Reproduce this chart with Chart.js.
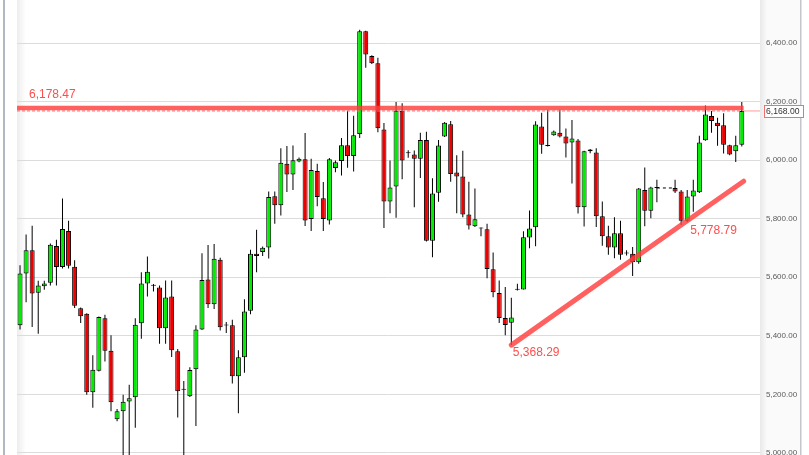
<!DOCTYPE html>
<html><head><meta charset="utf-8">
<script src="https://cdn.jsdelivr.net/npm/chart.js@4.4.0/dist/chart.umd.min.js"></script>
<style>
html,body{margin:0;padding:0;background:#fff;}
#wrap{position:relative;width:809px;height:455px;overflow:hidden;}
canvas{display:block;}
</style></head><body>
<div id="wrap"><canvas id="c" width="809" height="455"></canvas></div>
<script>
// Trading sessions (two holiday sessions without data at 107-108)
const sessions = Array.from({length:120}, (_, i) => 'S' + (i + 1));

const open = [
 5436,5613,5692,5547,5569,5581,5707,5635,5758,5636,
 5494,5475,5207,5281,5460,5349,5115,5142,5176,5190,
 5443,5579,5572,5565,5426,5534,5347,5217,5194,5286,
 5422,5592,5508,5660,5437,5436,5262,5327,5486,5680,
 5686,5702,5877,5846,5988,5951,5995,6003,5799,5963,
 5870,5794,5973,5997,6051,6014,6089,6440,6356,6331,
 6105,5859,5910,6169,6026,6019,6005,6069,5725,5889,
 6081,6123,5958,5944,5814,5774,5767,5764,5627,5546,
 5461,5445,5557,5558,5736,5771,6115,6049,6085,6094,
 6081,6060,6067,5839,6036,6026,5808,5740,5702,5750,
 5682,5680,5651,5898,5827,5906,null,null,5905,5893,
 5793,5876,5890,6068,6151,6128,6119,6051,6030,6053];
const high = [
 5641,5746,5776,5588,5588,5715,5728,5869,5793,5658,
 5497,5477,5334,5466,5472,5402,5150,5199,5233,5460,
 5617,5671,5577,5572,5589,5589,5355,5246,5293,5436,
 5682,5710,5714,5667,5447,5455,5351,5525,5694,5762,
 5705,5893,5893,6041,6048,6050,6009,6093,6005,5988,
 5925,6007,5999,6076,6169,6152,6445,6442,6358,6350,
 6127,5999,6199,6194,6034,6033,6094,6097,5938,6069,
 6130,6134,6017,6032,5926,5903,5770,5783,5685,5589,
 5567,5530,5578,5757,5828,6133,6162,6172,6101,6172,
 6108,6137,6072,6032,6038,6041,5859,5776,5805,5793,
 5692,5703,5905,5975,5909,5933,null,null,5933,5898,
 5898,5933,6083,6187,6168,6145,6160,6053,6083,6199];
const low = [
 5422,5515,5430,5407,5557,5572,5572,5630,5630,5495,
 5444,5199,5154,5278,5312,5142,5108,4980,4980,5086,
 5390,5534,5551,5373,5373,5328,5121,4980,5191,5092,
 5420,5495,5492,5418,5410,5237,5136,5274,5474,5617,
 5673,5664,5783,5811,5891,5898,5993,5775,5758,5843,
 5758,5780,5959,5948,5974,5961,6076,6316,6328,6095,
 5768,5819,5803,5935,6008,5839,5939,5722,5668,5858,
 6079,5926,5819,5805,5763,5772,5740,5597,5532,5444,
 5402,5368.29,5555,5558,5699,5706,6022,6047,6083,6077,
 6009,5920,5818,5773,6024,5772,5708,5677,5665,5660,
 5674,5604,5646,5774,5802,5856,null,null,5888,5778.79,
 5788,5824,5888,6066,6094,6049,6023,6017,5994,6047];
const close = [
 5613,5692,5545,5572,5579,5711,5635,5765,5639,5503,
 5467,5207,5284,5464,5349,5173,5142,5175,5187,5438,
 5579,5619,5571,5426,5531,5351,5211,5216,5283,5422,
 5591,5508,5663,5429,5435,5262,5327,5483,5680,5673,
 5701,5874,5846,5991,5951,6000,6005,5794,5966,5874,
 5799,6003,5993,6051,6014,6085,6440,6361,6331,6109,
 5859,5907,6169,5999,6024,6005,6069,5725,5886,6050,
 6128,5953,5944,5814,5777,5798,5768,5628,5549,5461,
 5437,5463,5558,5737,5767,6122,6053,6048,6098,6081,
 6057,6074,5839,6030,6030,5808,5740,5702,5750,5677,
 5681,5652,5903,5827,5907,5905,null,null,5893,5793,
 5876,5896,6060,6156,6134,6117,6053,6019,6051,6168];

const priceTicks = [5000, 5200, 5400, 5600, 5800, 6000, 6200, 6400];
const resistance = 6178.47;
const lastPrice = 6168.00;
const trendStart = {x: 81, y: 5368.29};
const trendMid = {x: 109, y: 5778.79};
const trendEnd = {x: 119.3, y: 5928};

const GREEN = 'rgb(0,236,0)';
const RED = 'rgb(238,0,0)';
const LINE_RED = 'rgba(255,62,62,0.82)';
const fmt = v => v.toLocaleString('en-US', {minimumFractionDigits: 2, maximumFractionDigits: 2});

const bodies = [], wicks = [], bodyColors = [];
sessions.forEach((s, i) => {
  if (open[i] == null) return;
  bodies.push({x: i, y: [open[i], close[i]]});
  wicks.push({x: i, y: [low[i], high[i]]});
  bodyColors.push(close[i] >= open[i] ? GREEN : RED);
});
// holiday gap connector (previous close -> next open)
const gapLine = [{x: 105, y: close[105]}, {x: 108, y: open[108]}];

const decor = {
  id: 'decor',
  beforeDraw(chart) {
    const c = chart.ctx, a = chart.chartArea;
    c.save();
    c.fillStyle = '#fff'; c.fillRect(0, 0, chart.width, chart.height);
    // right axis panel
    c.fillStyle = '#fafafa'; c.fillRect(a.right, 0, 40, chart.height);
    let g = c.createLinearGradient(a.right, 0, a.right + 7, 0);
    g.addColorStop(0, 'rgba(0,0,0,0.07)'); g.addColorStop(1, 'rgba(0,0,0,0)');
    c.fillStyle = g; c.fillRect(a.right, 0, 7, chart.height);
    c.fillStyle = '#c4c6cc'; c.fillRect(a.right + 40, 0, 1.5, chart.height);
    // left frame line and shadow
    c.fillStyle = '#b4b8c4'; c.fillRect(3, 0, 2, chart.height);
    g = c.createLinearGradient(a.left, 0, a.left + 9, 0);
    g.addColorStop(0, 'rgba(0,0,0,0.07)'); g.addColorStop(1, 'rgba(0,0,0,0)');
    c.fillStyle = g; c.fillRect(a.left, 0, 9, chart.height);
    c.restore();
  },
  afterDraw(chart) {
    const c = chart.ctx, xs = chart.scales.x, ys = chart.scales.y;
    c.save();
    c.font = '12px "Liberation Sans", Arial, sans-serif';
    c.fillStyle = '#ff4d4d';
    c.textBaseline = 'middle';
    c.textAlign = 'left';
    c.fillText(fmt(resistance), 29, ys.getPixelForValue(resistance) - 13.5);
    c.fillText(fmt(trendStart.y), xs.getPixelForValue(trendStart.x) + 1.5, ys.getPixelForValue(trendStart.y) + 8);
    c.fillText(fmt(trendMid.y), xs.getPixelForValue(trendMid.x) + 9, ys.getPixelForValue(trendMid.y) + 6);
    // last price box on axis
    const py = Math.round(ys.getPixelForValue(lastPrice)) + 0.5;
    const bx = chart.chartArea.right + 4.5;
    c.fillStyle = '#fff';
    c.fillRect(bx, py - 6, 39, 12);
    c.strokeStyle = '#ee7070'; c.lineWidth = 1;
    c.strokeRect(bx, py - 6, 39, 12);
    c.fillStyle = '#333';
    c.font = '8.6px "Liberation Sans", Arial, sans-serif';
    c.fillText(fmt(lastPrice), bx + 1.5, py + 0.5);
    c.restore();
  }
};

Chart.defaults.font.family = '"Liberation Sans", Arial, sans-serif';

new Chart(document.getElementById('c'), {
  type: 'bar',
  data: {
    labels: sessions,
    datasets: [
      {type: 'line', data: [{x: -0.5, y: resistance}, {x: 119.3, y: resistance}],
       borderColor: LINE_RED, borderWidth: 4.5, pointRadius: 0, order: 0},
      {type: 'line', data: [trendStart, trendMid, trendEnd],
       borderColor: LINE_RED, borderWidth: 5, pointRadius: 0, borderCapStyle: 'round', order: 0},
      {type: 'line', data: [{x: -0.5, y: lastPrice}, {x: 119.3, y: lastPrice}],
       borderColor: '#ff6a6a', borderWidth: 1, borderDash: [3, 2], pointRadius: 0, order: 1},
      {type: 'line', data: [{x: 119.3, y: lastPrice}, {x: 122, y: lastPrice}],
       borderColor: '#ff9a9a', borderWidth: 1, pointRadius: 0, order: 1},
      {type: 'line', data: gapLine, borderColor: '#000', borderWidth: 1, borderDash: [3, 3], pointRadius: 0, order: 1},
      {type: 'bar', data: bodies, backgroundColor: bodyColors, borderColor: '#000', borderWidth: 1,
       borderSkipped: false, barThickness: 5, minBarLength: 1, grouped: false, inflateAmount: 0, order: 2},
      {type: 'bar', data: wicks, backgroundColor: '#000', borderWidth: 0, barThickness: 1,
       grouped: false, inflateAmount: 0, order: 3}
    ]
  },
  options: {
    responsive: false,
    animation: false,
    devicePixelRatio: 1,
    layout: {padding: {left: 17, right: 0, top: 0, bottom: 0}},
    plugins: {legend: {display: false}, tooltip: {enabled: false}},
    scales: {
      x: {type: 'linear', min: -0.5, max: 122, offset: false, grid: {offset: false}, display: false},
      y: {
        position: 'right', min: 4993, max: 6547,
        border: {display: false},
        grid: {color: '#dcdcdc', lineWidth: 1, drawTicks: false},
        ticks: {includeBounds: false, padding: 6, color: '#5a5a5a',
                font: {size: 8}, callback: v => fmt(v)},
        afterBuildTicks: s => { s.ticks = priceTicks.map(v => ({value: v})); },
        afterFit: s => { s.width = 49; s.paddingTop = 0; s.paddingBottom = 0; }
      }
    }
  },
  plugins: [decor]
});
</script>
</body></html>
